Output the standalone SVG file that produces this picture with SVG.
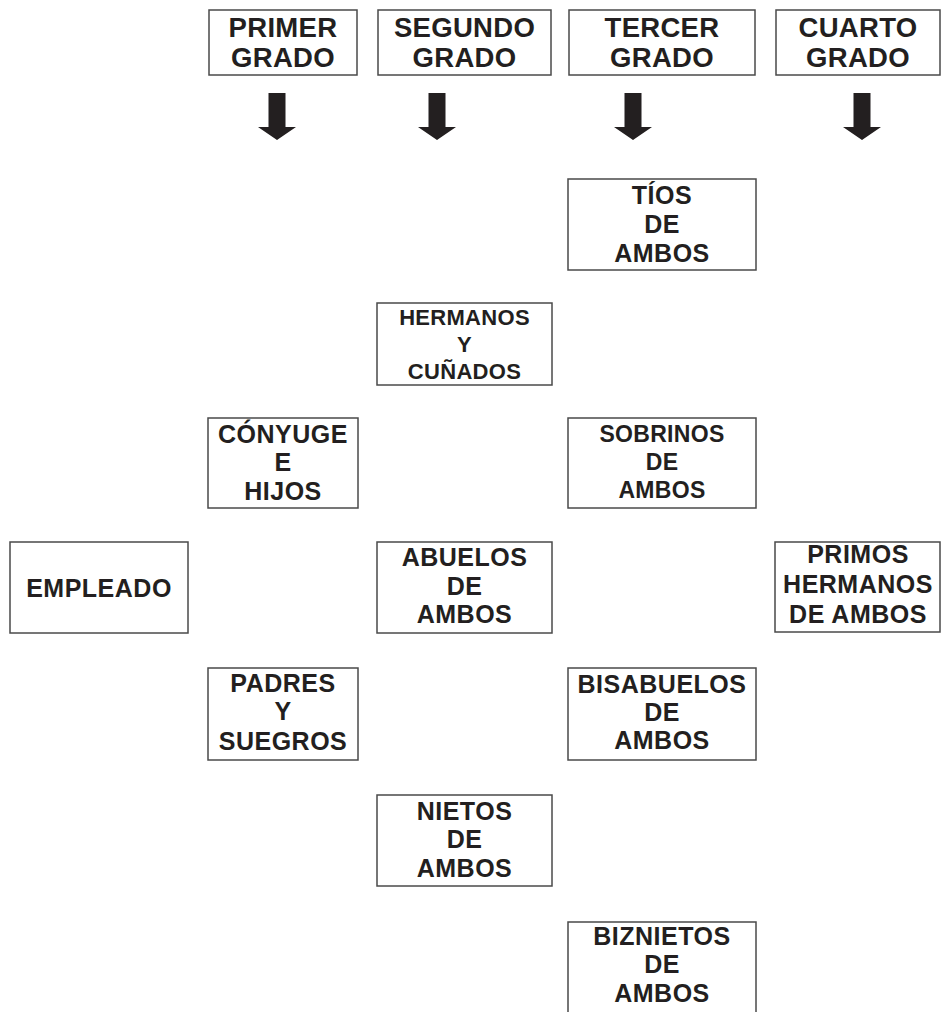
<svg xmlns="http://www.w3.org/2000/svg" width="941" height="1012" viewBox="0 0 941 1012">
<style>
.box{fill:#fff;stroke:#4a4a4a;stroke-width:1.5}
.t{font-family:"Liberation Sans",Arial,sans-serif;font-weight:bold;fill:#231f20;text-anchor:middle;font-size:25px;letter-spacing:0.5px}
.h{font-size:27.5px;letter-spacing:0.3px}
.s22{font-size:22px;letter-spacing:0.3px}
.s23{font-size:23px;letter-spacing:0.3px}
.arr{fill:#231f20}
</style>
<defs>
<path id="arrow" d="M-8.5,93 H8.5 V127 H19 L0,140 L-19,127 H-8.5 Z"/>
</defs>
<g id="header-primer"><rect class="box" x="209" y="10" width="148" height="65"/><text class="t h" x="283" y="37">PRIMER</text><text class="t h" x="283" y="67">GRADO</text></g>
<g id="header-segundo"><rect class="box" x="378" y="10" width="173" height="65"/><text class="t h" x="464.5" y="37">SEGUNDO</text><text class="t h" x="464.5" y="67">GRADO</text></g>
<g id="header-tercer"><rect class="box" x="569" y="10" width="186" height="65"/><text class="t h" x="662" y="37">TERCER</text><text class="t h" x="662" y="67">GRADO</text></g>
<g id="header-cuarto"><rect class="box" x="776" y="10" width="164" height="65"/><text class="t h" x="858" y="37">CUARTO</text><text class="t h" x="858" y="67">GRADO</text></g>
<g id="connectors">
<use href="#arrow" class="arr" x="277"/>
<use href="#arrow" class="arr" x="437"/>
<use href="#arrow" class="arr" x="633"/>
<use href="#arrow" class="arr" x="862"/>
</g>
<g id="tios"><rect class="box" x="568" y="179" width="188" height="91"/><text class="t" x="662" y="204">TÍOS</text><text class="t" x="662" y="233">DE</text><text class="t" x="662" y="262">AMBOS</text></g>
<g id="hermanos"><rect class="box" x="377" y="303" width="175" height="82"/><text class="t s22" x="464.5" y="325">HERMANOS</text><text class="t s22" x="464.5" y="352">Y</text><text class="t s22" x="464.5" y="379">CUÑADOS</text></g>
<g id="conyuge"><rect class="box" x="208" y="418" width="150" height="90"/><text class="t" x="283" y="443">CÓNYUGE</text><text class="t" x="283" y="471">E</text><text class="t" x="283" y="500">HIJOS</text></g>
<g id="sobrinos"><rect class="box" x="568" y="418" width="188" height="90"/><text class="t s23" x="662" y="442">SOBRINOS</text><text class="t s23" x="662" y="470">DE</text><text class="t s23" x="662" y="498">AMBOS</text></g>
<g id="empleado"><rect class="box" x="10" y="542" width="178" height="91"/><text class="t" x="99" y="597">EMPLEADO</text></g>
<g id="abuelos"><rect class="box" x="377" y="542" width="175" height="91"/><text class="t" x="464.5" y="566">ABUELOS</text><text class="t" x="464.5" y="595">DE</text><text class="t" x="464.5" y="623">AMBOS</text></g>
<g id="primos"><rect class="box" x="775" y="542" width="165" height="90"/><text class="t" x="858" y="563">PRIMOS</text><text class="t" x="858" y="593">HERMANOS</text><text class="t" x="858" y="623">DE AMBOS</text></g>
<g id="padres"><rect class="box" x="208" y="668" width="150" height="92"/><text class="t" x="283" y="692">PADRES</text><text class="t" x="283" y="720">Y</text><text class="t" x="283" y="750">SUEGROS</text></g>
<g id="bisabuelos"><rect class="box" x="568" y="668" width="188" height="92"/><text class="t" x="662" y="693">BISABUELOS</text><text class="t" x="662" y="721">DE</text><text class="t" x="662" y="749">AMBOS</text></g>
<g id="nietos"><rect class="box" x="377" y="795" width="175" height="91"/><text class="t" x="464.5" y="820">NIETOS</text><text class="t" x="464.5" y="848">DE</text><text class="t" x="464.5" y="877">AMBOS</text></g>
<g id="biznietos"><rect class="box" x="568" y="922" width="188" height="100"/><text class="t" x="662" y="945">BIZNIETOS</text><text class="t" x="662" y="973">DE</text><text class="t" x="662" y="1002">AMBOS</text></g>
</svg>
